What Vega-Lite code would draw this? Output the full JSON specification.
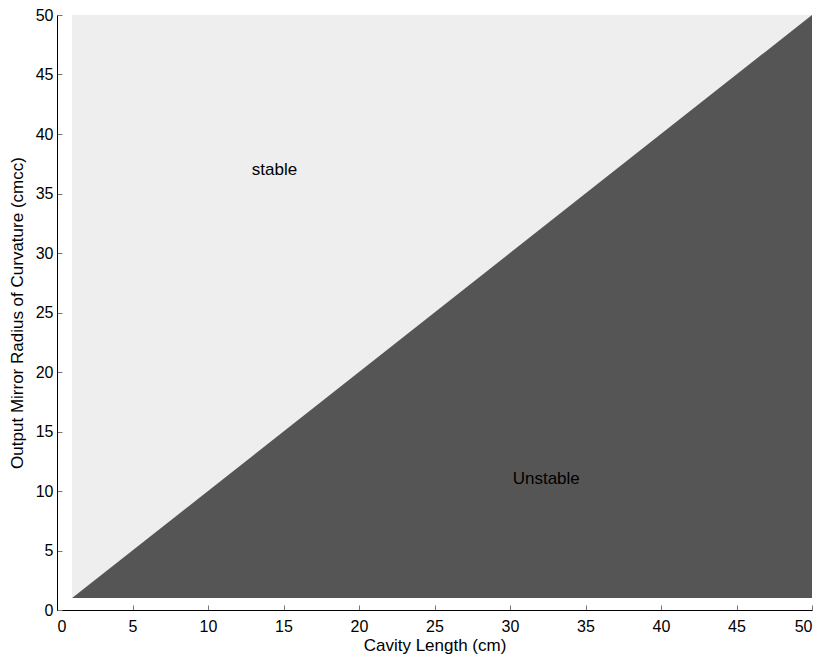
{
  "$schema": "https://vega.github.io/schema/vega-lite/v6.json",
  "width": 755,
  "height": 595,
  "autosize": {"type": "none"},
  "padding": {"left": 57, "top": 15, "right": 10, "bottom": 52},
  "background": "white",
  "config": {
    "view": {"stroke": null},
    "font": "Liberation Sans",
    "axis": {
      "grid": false,
      "domainColor": "#000000",
      "domainWidth": 1,
      "tickColor": "#777777",
      "tickSize": -5,
      "labelFontSize": 16,
      "labelColor": "#000000",
      "titleFontSize": 17,
      "titleFontWeight": "normal",
      "titleColor": "#000000",
      "labelFont": "Liberation Sans",
      "titleFont": "Liberation Sans"
    }
  },
  "datasets": {
    "region": [{"x1": 1, "x2": 50, "y1": 1, "y2": 50}],
    "edge": [{"L": 1, "R": 1}, {"L": 50, "R": 50}],
    "labels": [
      {"x": 14.4, "y": 37, "text": "stable"},
      {"x": 32.4, "y": 11, "text": "Unstable"}
    ]
  },
  "layer": [
    {
      "data": {"name": "region"},
      "mark": {"type": "rect", "color": "#eeeeee"},
      "encoding": {
        "x": {"field": "x1", "type": "quantitative", "scale": {"domain": [0, 50], "nice": false},
          "axis": {"title": "Cavity Length (cm)", "values": [0,5,10,15,20,25,30,35,40,45,50], "labelPadding": 13, "titlePadding": 3}},
        "x2": {"field": "x2"},
        "y": {"field": "y1", "type": "quantitative", "scale": {"domain": [0, 50], "nice": false},
          "axis": {"title": "Output Mirror Radius of Curvature (cmcc)", "values": [0,5,10,15,20,25,30,35,40,45,50], "labelPadding": 9, "titlePadding": 9}},
        "y2": {"field": "y2"}
      }
    },
    {
      "data": {"name": "edge"},
      "mark": {"type": "area", "color": "#555555", "opacity": 1},
      "encoding": {
        "x": {"field": "L", "type": "quantitative"},
        "y": {"field": "R", "type": "quantitative"},
        "y2": {"datum": 1}
      }
    },
    {
      "data": {"name": "labels"},
      "mark": {"type": "text", "fontSize": 17, "color": "#000000", "font": "Liberation Sans"},
      "encoding": {
        "x": {"field": "x", "type": "quantitative"},
        "y": {"field": "y", "type": "quantitative"},
        "text": {"field": "text"}
      }
    }
  ]
}
